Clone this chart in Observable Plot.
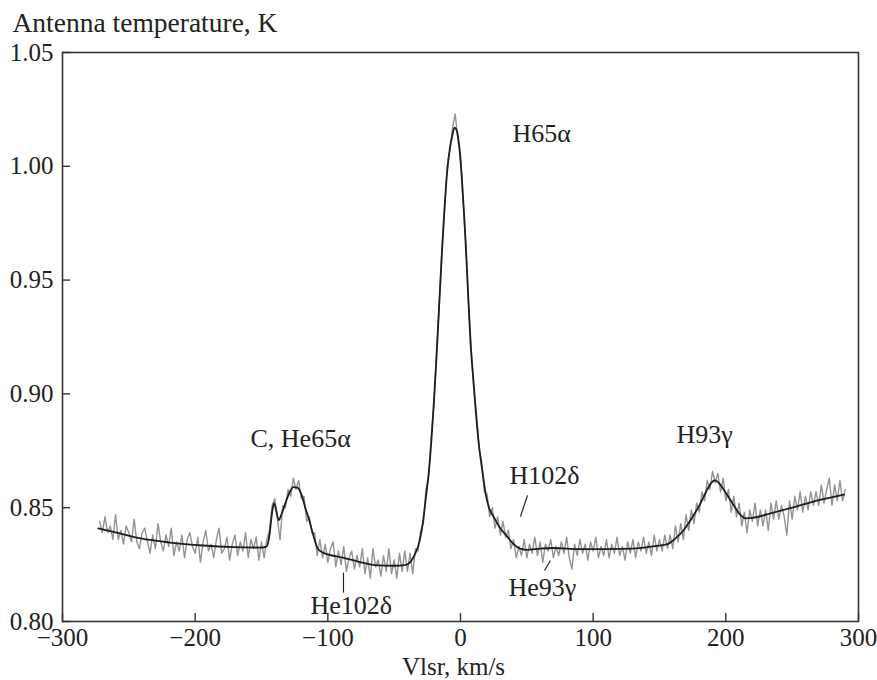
<!DOCTYPE html>
<html><head><meta charset="utf-8">
<script src="https://cdn.jsdelivr.net/npm/d3@7"></script>
<script src="https://cdn.jsdelivr.net/npm/@observablehq/plot@0.6"></script>
<style>body{margin:0;background:#fff}</style>
</head><body><div id="chart"></div>
<script>
// Spectrometer channel grid (km/s)
const channelStart = -272;
const channelWidth = 2;

const observedT = [
  0.844,0.839,0.846,0.839,0.842,0.836,0.847,0.836,0.840,0.834,
  0.842,0.839,0.835,0.845,0.835,0.832,0.839,0.841,0.835,0.830,
  0.838,0.832,0.843,0.835,0.831,0.838,0.833,0.841,0.829,0.835,
  0.831,0.838,0.828,0.836,0.839,0.833,0.830,0.837,0.826,0.835,
  0.840,0.831,0.834,0.828,0.836,0.841,0.830,0.832,0.837,0.827,
  0.834,0.838,0.829,0.835,0.831,0.839,0.828,0.836,0.832,0.837,
  0.827,0.835,0.828,0.836,0.840,0.851,0.854,0.845,0.836,0.851,
  0.850,0.858,0.855,0.863,0.858,0.862,0.854,0.855,0.844,0.846,
  0.839,0.839,0.829,0.836,0.828,0.834,0.826,0.832,0.835,0.824,
  0.831,0.825,0.833,0.822,0.828,0.831,0.823,0.829,0.824,0.832,
  0.821,0.828,0.819,0.832,0.824,0.827,0.820,0.829,0.822,0.832,
  0.821,0.827,0.819,0.830,0.822,0.831,0.822,0.830,0.821,0.832,
  0.831,0.840,0.843,0.858,0.863,0.882,0.895,0.919,0.939,0.964,
  0.981,1.000,1.007,1.017,1.023,1.012,1.005,0.984,0.966,0.940,
  0.921,0.902,0.891,0.876,0.870,0.857,0.856,0.846,0.850,0.841,
  0.846,0.838,0.844,0.837,0.840,0.832,0.836,0.828,0.833,0.829,
  0.836,0.828,0.834,0.830,0.837,0.829,0.835,0.826,0.834,0.831,
  0.836,0.828,0.833,0.829,0.835,0.830,0.837,0.828,0.823,0.834,
  0.829,0.836,0.830,0.834,0.827,0.835,0.831,0.837,0.828,0.833,
  0.829,0.836,0.828,0.834,0.830,0.837,0.829,0.833,0.827,0.835,
  0.830,0.836,0.828,0.835,0.831,0.837,0.830,0.835,0.829,0.838,
  0.831,0.836,0.831,0.838,0.832,0.838,0.832,0.842,0.835,0.843,
  0.836,0.847,0.840,0.849,0.843,0.852,0.848,0.857,0.853,0.862,
  0.858,0.866,0.861,0.865,0.857,0.863,0.853,0.858,0.848,0.855,
  0.846,0.852,0.842,0.848,0.839,0.849,0.844,0.852,0.842,0.849,
  0.842,0.849,0.840,0.852,0.845,0.853,0.845,0.851,0.846,0.838,
  0.853,0.845,0.855,0.849,0.857,0.848,0.855,0.849,0.857,0.851,
  0.857,0.851,0.860,0.852,0.858,0.863,0.851,0.860,0.853,0.862,0.853,0.858
];

// Fitted profile (black curve): velocity (km/s) and temperature (K)
const fitV = [-273,-260,-241,-219,-194,-171,-150,-146,-144,-142,-140.5,-139,-137,-135,-132,-129,-126,-123,-120,-117,-114,-111,-108,-105,-100,-88,-75,-65,-50,-42,-38,-34,-31,-28,-26,-24,-22,-20,-18,-16,-14,-12,-10,-8,-6,-4.5,-3,-1,1,3,5,7.5,10,12,14,16.5,19,21.5,25,30,35,40,45,50,60,70,90,110,130,145,156,162,168,175,181,186,190,192,195,200,205,210,215,220,235,250,270,289];
const fitT = [0.8409,0.8392,0.8365,0.8347,0.8334,0.8327,0.8325,0.8330,0.838,0.848,0.852,0.849,0.8445,0.847,0.852,0.8565,0.859,0.8588,0.856,0.850,0.8445,0.838,0.8325,0.8307,0.8295,0.828,0.826,0.8248,0.8245,0.8248,0.826,0.830,0.835,0.845,0.855,0.865,0.879,0.897,0.917,0.940,0.962,0.982,0.998,1.008,1.014,1.017,1.016,1.009,0.995,0.976,0.953,0.923,0.904,0.889,0.877,0.866,0.856,0.850,0.846,0.841,0.8375,0.834,0.832,0.8315,0.832,0.8323,0.8318,0.8318,0.832,0.833,0.834,0.8365,0.840,0.846,0.852,0.858,0.8615,0.862,0.8607,0.8565,0.852,0.8475,0.8453,0.8455,0.8477,0.850,0.8533,0.8558];

// Axis ticks
const xTicks = [-300,-200,-100,0,100,200,300];
const yTicks = [0.80,0.85,0.90,0.95,1.00,1.05];

// Line identifications
const lineNames = ["H65\u03b1","C, He65\u03b1","H93\u03b3","H102\u03b4","He93\u03b3","He102\u03b4"];
const lineLabelV = [39.2,-158.3,162.8,36.9,36.2,-113.1];
const lineLabelT = [1.0105,0.8765,0.8786,0.8606,0.8110,0.8035];

// Marker strokes pointing to weak lines
const markerV1 = [-88.2,50.5,67.8];
const markerT1 = [0.8215,0.8554,0.8268];
const markerV2 = [-88.2,45.2,63.3];
const markerT2 = [0.8127,0.8461,0.8224];

const obs = observedT.map((t, i) => ({v: channelStart + i * channelWidth, t}));
const fit = fitV.map((v, i) => ({v, t: fitT[i]}));
const labels = lineNames.map((name, i) => ({name, v: lineLabelV[i], t: lineLabelT[i]}));
const markers = markerV1.map((v, i) => ({v1: v, t1: markerT1[i], v2: markerV2[i], t2: markerT2[i]}));
const fmtX = d => d < 0 ? "\u2212" + Math.abs(d) : String(d);
const serif = "Liberation Serif";

const chart = Plot.plot({
  width: 877, height: 680,
  marginLeft: 62, marginRight: 19, marginTop: 52, marginBottom: 59,
  style: {fontFamily: serif, fontSize: "25px", color: "#222", background: "#fff"},
  x: {domain: [-300, 300]},
  y: {domain: [0.80, 1.05]},
  marks: [
    Plot.line(obs, {x: "v", y: "t", stroke: "#939393", strokeWidth: 1.4}),
    Plot.line(fit, {x: "v", y: "t", stroke: "#1e1e1e", strokeWidth: 1.8, curve: "monotone-x"}),
    Plot.frame({stroke: "#333", strokeWidth: 1.6}),
    Plot.axisX(xTicks, {tickSize: -8, tickPadding: 15, tickFormat: fmtX, label: null, stroke: "#333", strokeWidth: 1.4, fontFamily: serif, fontSize: 25}),
    Plot.axisY(yTicks, {tickSize: -8, tickPadding: 17, tickFormat: d3.format(".2f"), label: null, stroke: "#333", strokeWidth: 1.4, fontFamily: serif, fontSize: 25}),
    Plot.text(["Antenna temperature, K"], {frameAnchor: "top-left", dx: -50, dy: -29, textAnchor: "start", lineAnchor: "middle", fill: "#222", fontSize: 27.5, fontFamily: serif}),
    Plot.text(["Vlsr, km/s"], {frameAnchor: "bottom", dx: -7, dy: 53, lineAnchor: "bottom", fill: "#222", fontSize: 25, fontFamily: serif}),
    Plot.text(labels, {x: "v", y: "t", text: "name", textAnchor: "start", lineAnchor: "bottom", fontSize: 26, fill: "#222", fontFamily: serif}),
    Plot.link(markers, {x1: "v1", y1: "t1", x2: "v2", y2: "t2", stroke: "#222", strokeWidth: 1.2})
  ]
});
document.getElementById("chart").appendChild(chart);
</script>
</body></html>
